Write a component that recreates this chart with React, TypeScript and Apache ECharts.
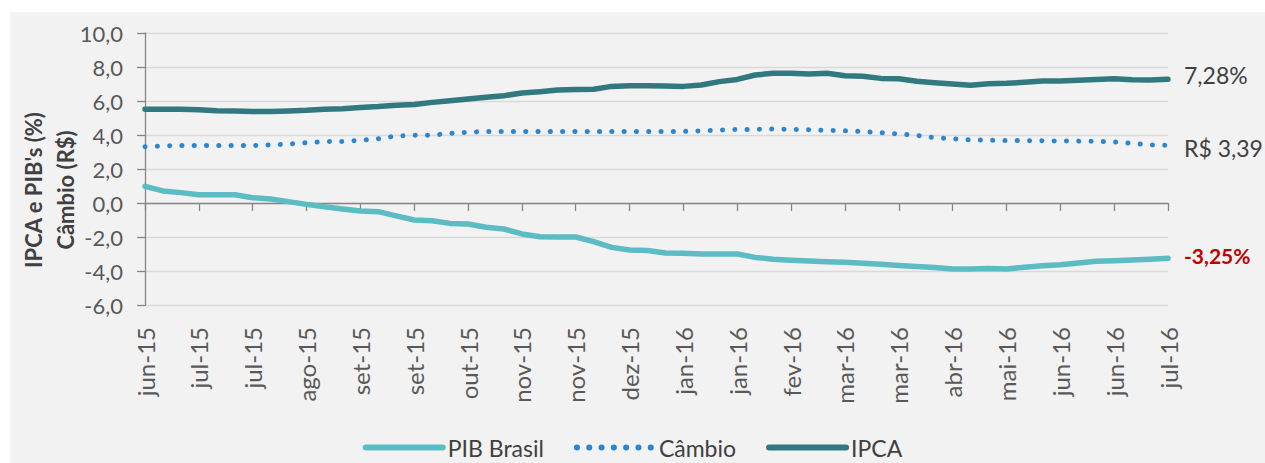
import React, { useEffect, useRef } from "react";
import * as echarts from "echarts";

const tickLabels = [
  "jun-15", "jul-15", "jul-15", "ago-15", "set-15", "set-15", "out-15",
  "nov-15", "nov-15", "dez-15", "jan-16", "jan-16", "fev-16", "mar-16",
  "mar-16", "abr-16", "mai-16", "jun-16", "jun-16", "jul-16",
];

const seriesNames = ["PIB Brasil", "Câmbio", "IPCA"];

const pib = [
  0.98, 0.71, 0.61, 0.49, 0.49, 0.49, 0.31, 0.24, 0.08, -0.08,
  -0.22, -0.35, -0.47, -0.51, -0.76, -1.0, -1.04, -1.2, -1.24, -1.43,
  -1.53, -1.82, -1.98, -2.0, -2.0, -2.27, -2.61, -2.76, -2.8, -2.94,
  -2.96, -3.0, -3.0, -3.0, -3.2, -3.31, -3.37, -3.41, -3.45, -3.49,
  -3.55, -3.61, -3.67, -3.73, -3.8, -3.88, -3.88, -3.86, -3.88, -3.78,
  -3.69, -3.63, -3.53, -3.43, -3.39, -3.35, -3.31, -3.25,
];

const cambio = [
  3.31, 3.36, 3.38, 3.38, 3.38, 3.38, 3.38, 3.42, 3.47, 3.55,
  3.61, 3.62, 3.69, 3.78, 3.94, 3.98, 3.99, 4.1, 4.16, 4.21,
  4.21, 4.21, 4.21, 4.21, 4.21, 4.21, 4.21, 4.21, 4.21, 4.21,
  4.21, 4.25, 4.29, 4.33, 4.33, 4.35, 4.33, 4.31, 4.27, 4.25,
  4.2, 4.14, 4.06, 3.98, 3.84, 3.78, 3.71, 3.69, 3.67, 3.67,
  3.66, 3.65, 3.64, 3.63, 3.59, 3.51, 3.42, 3.39,
];

const ipca = [
  5.51, 5.51, 5.51, 5.49, 5.43, 5.41, 5.38, 5.38, 5.41, 5.45,
  5.52, 5.54, 5.62, 5.67, 5.75, 5.8, 5.92, 6.02, 6.12, 6.22,
  6.31, 6.47, 6.55, 6.65, 6.67, 6.69, 6.86, 6.9, 6.9, 6.88,
  6.86, 6.94, 7.14, 7.27, 7.53, 7.63, 7.63, 7.59, 7.63, 7.49,
  7.45, 7.33, 7.31, 7.16, 7.08, 7.0, 6.92, 7.02, 7.04, 7.1,
  7.18, 7.18, 7.22, 7.27, 7.31, 7.25, 7.24, 7.28,
];

const FONT = "Lato, 'Open Sans', sans-serif";
const fmt = (v: number, d: number) => v.toFixed(d).replace(".", ",");

export default function App() {
  const ref = useRef<HTMLDivElement>(null);

  useEffect(() => {
    document.body.style.margin = "0";
    if (!ref.current) return;
    const chart = echarts.init(ref.current, null, { renderer: "svg" });
    const toPairs = (arr: number[]) => arr.map((v, i) => [i, v]);
    const last = (arr: number[]) => arr[arr.length - 1];

    chart.setOption({
      animation: false,
      backgroundColor: "transparent",
      textStyle: { fontFamily: FONT },
      grid: {
        left: 145,
        right: 97,
        top: 33,
        bottom: 158,
        containLabel: false,
        outerBoundsMode: "none",
      },
      legend: {
        data: seriesNames,
        top: 431,
        left: "center",
        itemWidth: 77,
        itemHeight: 14,
        itemGap: 30,
        lineStyle: { width: 6 },
        itemStyle: { opacity: 0, color: "rgba(0,0,0,0)", borderWidth: 0 },
        textStyle: { fontSize: 23, color: "#404040", fontFamily: FONT },
      },
      xAxis: {
        type: "value",
        min: 0,
        max: pib.length - 1,
        interval: 3,
        axisLine: { onZero: true, lineStyle: { color: "#868686", width: 1.3 } },
        axisTick: { show: true, length: 8, lineStyle: { color: "#868686", width: 1.3 } },
        splitLine: { show: false },
        axisLabel: {
          rotate: 90,
          margin: 22,
          fontSize: 24,
          color: "#595959",
          fontFamily: FONT,
          formatter: (v: number) => tickLabels[Math.round(v / 3)] ?? "",
        },
      },
      yAxis: {
        type: "value",
        min: -6,
        max: 10,
        interval: 2,
        axisLine: { show: true, lineStyle: { color: "#868686", width: 1.3 } },
        axisTick: { show: true, length: 8, lineStyle: { color: "#868686", width: 1.3 } },
        splitLine: { lineStyle: { color: "#d9d9d9", width: 1.3 } },
        axisLabel: {
          margin: 22,
          fontSize: 22,
          color: "#595959",
          fontFamily: FONT,
          formatter: (v: number) => fmt(v, 1),
        },
      },
      graphic: [
        {
          type: "text",
          x: 49,
          y: 190,
          rotation: Math.PI / 2,
          style: {
            text: "IPCA e PIB's (%)\nCâmbio (R$)",
            fill: "#404040",
            fontSize: 22,
            fontWeight: "bold",
            fontFamily: FONT,
            align: "center",
            verticalAlign: "middle",
            lineHeight: 32,
          },
        },
      ],
      series: [
        {
          name: seriesNames[0],
          type: "line",
          data: toPairs(pib),
          symbol: "none",
          showSymbol: false,
          color: "#5bbcc4",
          lineStyle: { color: "#5bbcc4", width: 5.5, cap: "round", join: "round" },
          endLabel: {
            show: true,
            distance: 16,
            offset: [0, -3],
            formatter: () => fmt(last(pib), 2) + "%",
            color: "#c00000",
            fontWeight: "bold",
            fontSize: 21,
            fontFamily: FONT,
          },
          z: 3,
        },
        {
          name: seriesNames[1],
          type: "line",
          data: toPairs(cambio),
          symbol: "none",
          showSymbol: false,
          color: "#2b86cf",
          lineStyle: { color: "#2b86cf", width: 5, type: [0.1, 12.2], cap: "round" },
          endLabel: {
            show: true,
            distance: 16,
            offset: [0, 3],
            formatter: () => "R$ " + fmt(last(cambio), 2),
            color: "#404040",
            fontSize: 23,
            fontFamily: FONT,
          },
          z: 3,
        },
        {
          name: seriesNames[2],
          type: "line",
          data: toPairs(ipca),
          symbol: "none",
          showSymbol: false,
          color: "#31797e",
          lineStyle: { color: "#31797e", width: 5.5, cap: "round", join: "round" },
          endLabel: {
            show: true,
            distance: 16,
            offset: [0, -4],
            formatter: () => fmt(last(ipca), 2) + "%",
            color: "#404040",
            fontSize: 23,
            fontFamily: FONT,
          },
          z: 3,
        },
      ],
    });
    return () => chart.dispose();
  }, []);

  return (
    <div style={{ position: "relative", width: 1265, height: 463, background: "#ffffff" }}>
      <div
        style={{
          position: "absolute",
          left: 10,
          top: 12,
          right: 0,
          bottom: 0,
          background: "#f2f2f2",
        }}
      />
      <div ref={ref} style={{ position: "absolute", left: 0, top: 0, width: 1265, height: 463 }} />
    </div>
  );
}
